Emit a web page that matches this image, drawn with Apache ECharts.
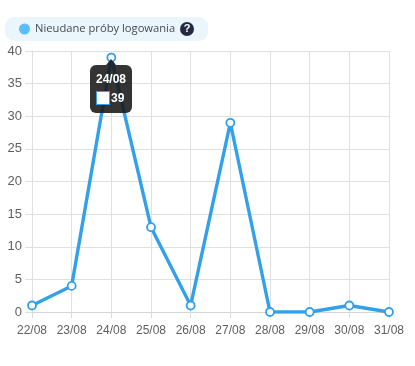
<!DOCTYPE html>
<html>
<head>
<meta charset="utf-8">
<style>
  html, body { margin: 0; padding: 0; background: #fff; }
  #chart { width: 415px; height: 366px; }
</style>
<script src="https://cdn.jsdelivr.net/npm/echarts@6/dist/echarts.min.js"></script>
</head>
<body>
<div id="chart"></div>
<script>
var categories = ['22/08', '23/08', '24/08', '25/08', '26/08', '27/08', '28/08', '29/08', '30/08', '31/08'];
var failed_logins = [1, 4, 39, 13, 1, 29, 0, 0, 1, 0];
var series_name = 'Nieudane próby logowania';
var active_index = 2;

var chart = echarts.init(document.getElementById('chart'));
chart.setOption({
  animation: false,
  textStyle: { fontFamily: '"Liberation Sans", Arial, sans-serif' },
  grid: { left: 32, right: 26, top: 51, bottom: 54 },
  legend: {
    left: 5,
    top: 17,
    padding: [5, 33, 5, 14],
    backgroundColor: '#ebf6fc',
    borderRadius: 9,
    itemWidth: 11,
    itemHeight: 11,
    itemGap: 5,
    icon: 'circle',
    selectedMode: false,
    textStyle: { color: '#444b55', fontSize: 11.2, lineHeight: 14, fontFamily: '"Open Sans", sans-serif' },
    data: [{ name: series_name, itemStyle: { color: '#5cbdfb', borderWidth: 0 } }]
  },
  graphic: [
    { type: 'circle', z: 100, shape: { cx: 187, cy: 29, r: 7 }, style: { fill: '#262a3f' } },
    { type: 'text', z: 101, x: 187, y: 29, style: { text: '?', fill: '#fff', font: 'bold 11px "Liberation Sans", sans-serif', align: 'center', verticalAlign: 'middle' } }
  ],
  tooltip: {
    trigger: 'item',
    alwaysShowContent: true,
    showDelay: 0,
    transitionDuration: 0,
    padding: [6, 7],
    borderWidth: 0,
    borderRadius: 6,
    backgroundColor: 'rgba(24,24,24,0.88)',
    extraCssText: 'box-shadow:none;width:28px;',
    position: function (point, params, dom, rect, size) {
      return [point[0] - 21, point[1] + 7];
    },
    formatter: function (p) {
      return '<div style="position:absolute;left:16px;top:-6px;width:0;height:0;border-left:5px solid transparent;border-right:5px solid transparent;border-bottom:6px solid rgba(24,24,24,0.88)"></div>' +
        '<div style="color:#fff;font:bold 12px/16px \'Liberation Sans\',sans-serif;margin-left:-1px;white-space:nowrap">' + p.name + '</div>' +
        '<div style="color:#fff;font:bold 12px/14px \'Liberation Sans\',sans-serif;margin-top:4px;margin-bottom:2px;margin-left:-1px;white-space:nowrap;display:flex;align-items:center">' +
        '<span style="display:inline-block;box-sizing:border-box;width:14px;height:14px;background:#fff;border:1.5px solid #33a0ea;margin-right:1px"></span>' + p.value + '</div>';
    }
  },
  xAxis: {
    type: 'category',
    data: categories,
    boundaryGap: false,
    axisLine: { lineStyle: { color: '#d5d5d5' } },
    axisTick: { show: true, length: 6, lineStyle: { color: '#dcdcdc' } },
    axisLabel: { color: '#5f5f5f', fontSize: 12, margin: 13, interval: 0 },
    splitLine: { show: true, lineStyle: { color: '#e0e0e0' } }
  },
  yAxis: {
    type: 'value',
    min: 0,
    max: 40,
    interval: 5,
    axisLine: { show: true, lineStyle: { color: '#e0e0e0' } },
    axisTick: { show: true, length: 7, lineStyle: { color: '#e0e0e0' } },
    axisLabel: { color: '#5f5f5f', fontSize: 13, margin: 10 },
    splitLine: { lineStyle: { color: '#e0e0e0' } }
  },
  series: [{
    name: series_name,
    type: 'line',
    data: failed_logins,
    symbol: 'circle',
    symbolSize: 8,
    showSymbol: true,
    lineStyle: { color: '#33a0ea', width: 3.4 },
    itemStyle: { color: '#fff', borderColor: '#33a0ea', borderWidth: 1.8 },
    emphasis: { scale: false }
  }]
});
chart.dispatchAction({ type: 'showTip', seriesIndex: 0, dataIndex: active_index });
window.addEventListener('resize', function () {
  chart.resize();
});
</script>
</body>
</html>
